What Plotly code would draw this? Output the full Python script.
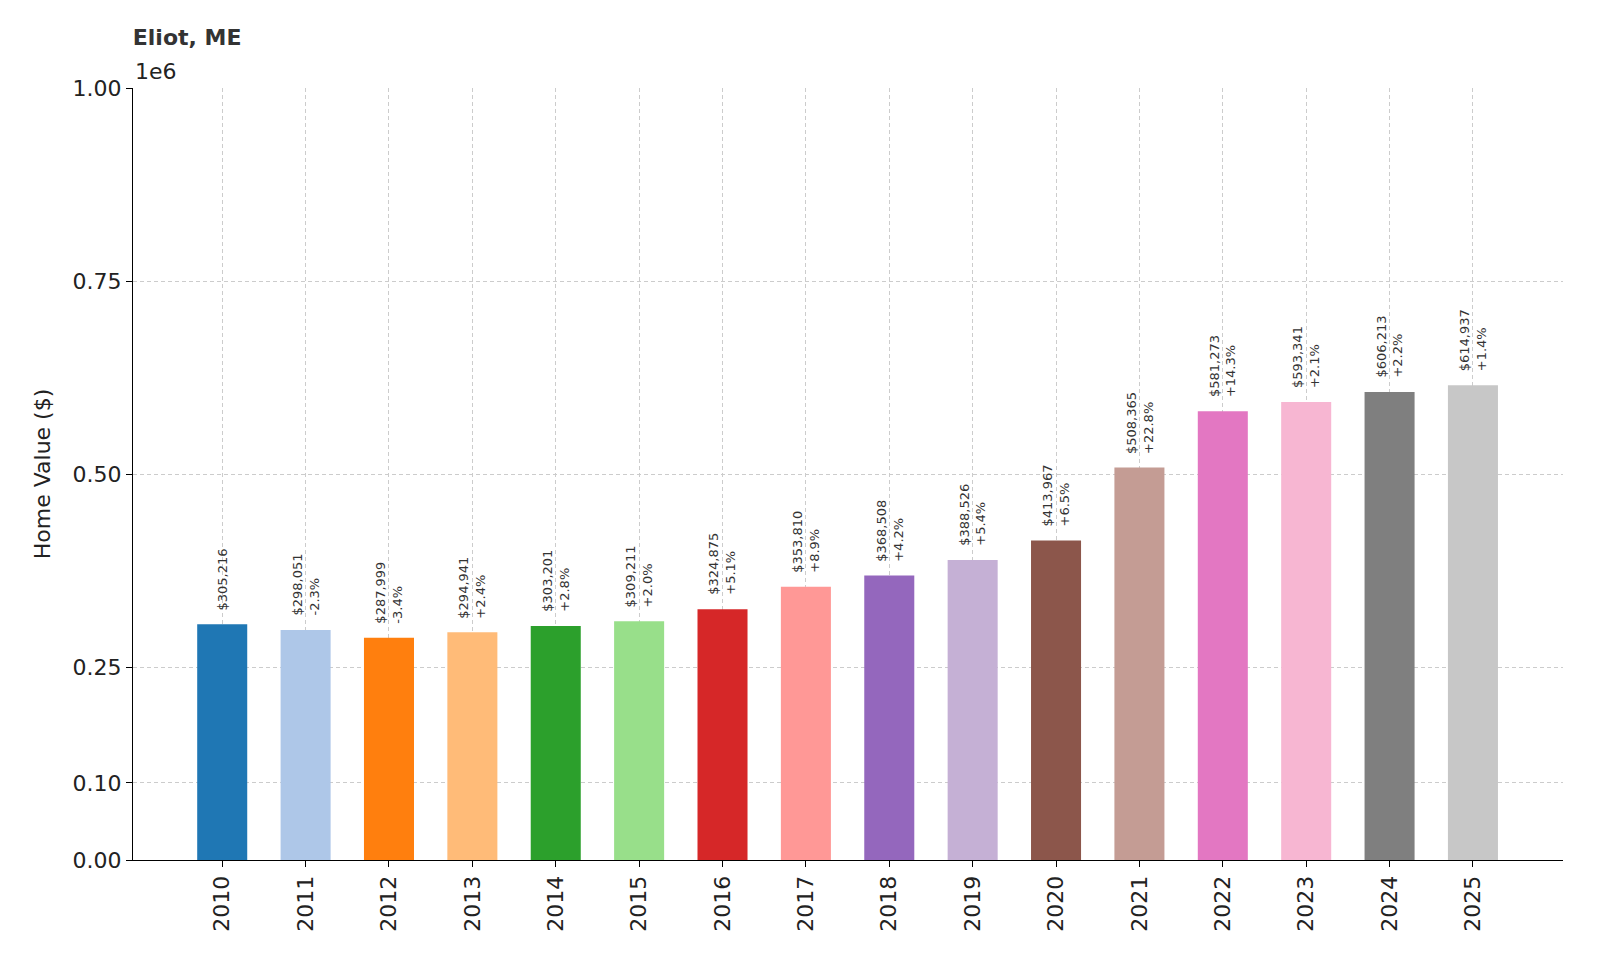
import plotly.graph_objects as go

years = [str(y) for y in range(2010, 2026)]
values = [305216, 298051, 287999, 294941, 303201, 309211, 324875, 353810, 368508,
          388526, 413967, 508365, 581273, 593341, 606213, 614937]
changes = [None, "-2.3%", "-3.4%", "+2.4%", "+2.8%", "+2.0%", "+5.1%", "+8.9%", "+4.2%",
           "+5.4%", "+6.5%", "+22.8%", "+14.3%", "+2.1%", "+2.2%", "+1.4%"]
colors = ["#1f77b4", "#aec7e8", "#ff7f0e", "#ffbb78", "#2ca02c", "#98df8a", "#d62728", "#ff9896",
          "#9467bd", "#c5b0d5", "#8c564b", "#c49c94", "#e377c2", "#f7b6d2", "#7f7f7f", "#c7c7c7"]
yticks = [0, 100000, 250000, 500000, 750000, 1000000]
yticklabels = ["0.00", "0.10", "0.25", "0.50", "0.75", "1.00"]

xs = list(range(len(years)))
fig = go.Figure(go.Bar(x=xs, y=values, marker_color=colors, width=0.6, marker_line_width=0))

for i, (v, c) in enumerate(zip(values, changes)):
    txt = f"${v:,}" if c is None else f"${v:,}<br>{c}"
    fig.add_annotation(x=i, y=v, text=txt, textangle=-90, showarrow=False,
                       xanchor="center", yanchor="bottom", yshift=12,
                       font=dict(size=13, color="#333333"), align="left")

grid = dict(showgrid=True, gridcolor="#cccccc", griddash="4px,3px", gridwidth=1)
fig.update_xaxes(range=[-1.07, 16.08], tickvals=xs, ticktext=years, tickangle=-90,
                 tickfont=dict(size=22, color="#222"), showline=True, linecolor="black",
                 ticks="outside", ticklen=6, tickcolor="black", zeroline=False, **grid)
fig.update_yaxes(range=[0, 1000000], tickvals=yticks, ticktext=yticklabels,
                 tickfont=dict(size=22, color="#222"), showline=True, linecolor="black",
                 ticks="outside", ticklen=6, tickcolor="black", zeroline=False,
                 title=dict(text="Home Value ($)", font=dict(size=22, color="#222")), **grid)
fig.add_annotation(xref="paper", yref="paper", x=0, y=1, yshift=2, xanchor="left", yanchor="bottom",
                   text="1e6", showarrow=False, font=dict(size=22, color="#222"))
fig.update_layout(width=1600, height=960, plot_bgcolor="white", paper_bgcolor="white",
                  font=dict(family="DejaVu Sans"),
                  title=dict(text="<b>Eliot, ME</b>", x=0.078, xanchor="left", y=0.978,
                             font=dict(size=22, color="#333")),
                  margin=dict(l=125, r=45, t=80, b=108), showlegend=False)
fig.write_html("out.html")
